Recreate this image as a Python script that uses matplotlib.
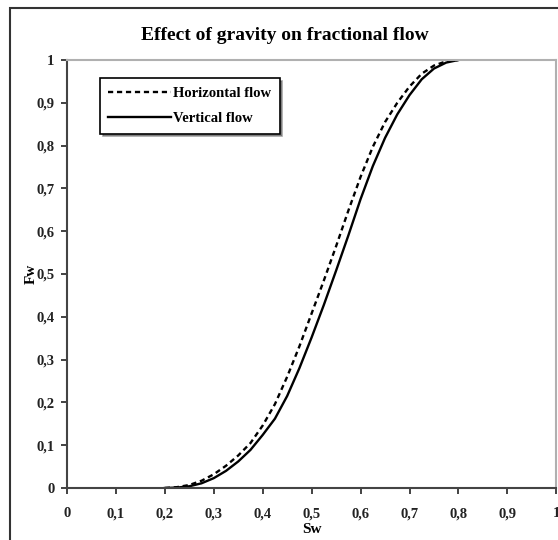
import matplotlib
matplotlib.use("Agg")
import matplotlib.pyplot as plt
from matplotlib.patches import Rectangle

# water saturation points
sw = [0.200, 0.225, 0.250, 0.275, 0.300, 0.325, 0.350, 0.375, 0.400,
      0.425, 0.450, 0.475, 0.500, 0.525, 0.550, 0.575, 0.600, 0.625,
      0.650, 0.675, 0.700, 0.725, 0.750, 0.775, 0.800]

# fractional flow, horizontal flow (dashed)
fw_horizontal = [0.000, 0.002, 0.007, 0.017, 0.032, 0.052, 0.076, 0.105, 0.146,
                 0.196, 0.260, 0.331, 0.408, 0.485, 0.565, 0.648, 0.727, 0.797,
                 0.855, 0.900, 0.938, 0.968, 0.987, 0.997, 1.000]

# fractional flow, vertical flow (solid)
fw_vertical = [0.000, 0.001, 0.004, 0.011, 0.023, 0.040, 0.062, 0.089, 0.124,
               0.162, 0.215, 0.280, 0.352, 0.428, 0.508, 0.590, 0.675, 0.752,
               0.818, 0.873, 0.918, 0.955, 0.980, 0.994, 1.000]

ticks = [0, 0.1, 0.2, 0.3, 0.4, 0.5, 0.6, 0.7, 0.8, 0.9, 1]
tick_labels = ['0', '0,1', '0,2', '0,3', '0,4', '0,5', '0,6', '0,7', '0,8', '0,9', '1']


def main():
    plt.rcParams['font.family'] = ['Liberation Serif', 'DejaVu Serif']
    fig = plt.figure(figsize=(5.58, 5.40), dpi=100)
    ax = fig.add_axes([0.120, 0.0963, 0.877, 0.7926])

    ax.plot(sw, fw_horizontal, color='black', linestyle=(0, (2.2, 1.6)), linewidth=1.7,
            label='Horizontal flow')
    ax.plot(sw, fw_vertical, color='black', linestyle='-', linewidth=1.7,
            label='Vertical flow')

    ax.set_xlim(0, 1)
    ax.set_ylim(0, 1)
    ax.set_xticks(ticks)
    ax.set_xticklabels(tick_labels)
    ax.set_yticks(ticks)
    ax.set_yticklabels(tick_labels)
    ax.tick_params(axis='x', direction='out', length=4, width=1.2, pad=10,
                   labelsize=10.5, colors='#222222')
    ax.tick_params(axis='y', direction='out', length=4, width=1.2, pad=5,
                   labelsize=10.5, colors='#222222')
    for lab in ax.get_xticklabels() + ax.get_yticklabels():
        lab.set_fontweight('bold')

    for side in ['top', 'right']:
        ax.spines[side].set_color('#b0b0b0')
        ax.spines[side].set_linewidth(1.5)
    for side in ['left', 'bottom']:
        ax.spines[side].set_color('#444444')
        ax.spines[side].set_linewidth(1.5)

    # title is centred on the chart area, not the axes
    fig.text(285 / 558, 1 - 35 / 540, 'Effect of gravity on fractional flow',
             fontsize=14, fontweight='bold', ha='center', va='center')
    ax.set_xlabel('Sw', fontsize=11, fontweight='bold', labelpad=2)
    ax.set_ylabel('Fw', fontsize=11, fontweight='bold', labelpad=-1)

    leg = ax.legend(loc='upper left', bbox_to_anchor=(0.067, 0.958),
                    prop={'weight': 'bold', 'size': 10.5}, frameon=True,
                    fancybox=False, shadow=True, edgecolor='black',
                    handlelength=4.3, handletextpad=0.1, borderpad=0.6,
                    labelspacing=0.8, borderaxespad=0)
    leg.get_frame().set_linewidth(1.2)

    # outer chart frame
    fig.add_artist(Rectangle((10 / 558, -0.1), 1.2, 1.1 - 8 / 540,
                             transform=fig.transFigure, fill=False,
                             edgecolor='#333333', linewidth=1.5, clip_on=False))

    fig.savefig('out.png', dpi=100)


if __name__ == '__main__':
    main()
